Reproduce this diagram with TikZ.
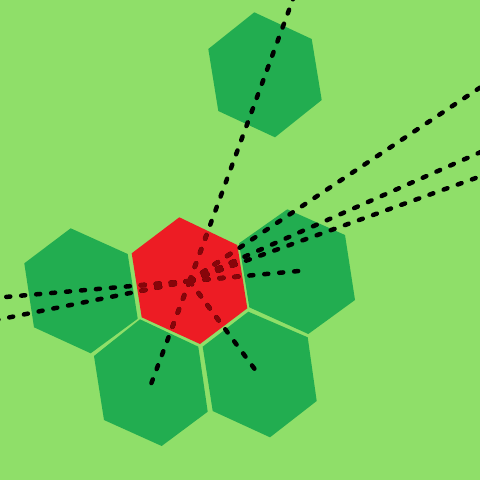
\documentclass[tikz,border=0pt]{standalone}
\definecolor{bg}{RGB}{143,223,105}
\definecolor{hexg}{RGB}{34,173,80}
\definecolor{hexr}{RGB}{237,28,36}
\definecolor{raydark}{RGB}{135,5,10}
\begin{document}
\begin{tikzpicture}[x=1pt,y=-1pt,
  greenhex/.style={fill=hexg},
  redhex/.style={fill=hexr},
  ray/.style={line width=4.5pt, line cap=round, dash pattern=on 4pt off 11pt}]
\fill[bg] (0,0) rectangle (480,480);
\useasboundingbox (0,0) rectangle (480,480);
% hexagons
\path[greenhex] (70.7,228.3)--(127.7,254)--(137.7,318.7)--(90.7,353.3)--(34,327.3)--(24.3,263.3)--cycle;
\path[greenhex] (140,319.3)--(198.3,346.7)--(207.7,411.7)--(161.7,446)--(104,420)--(94,356)--cycle;
\path[greenhex] (248.3,311.7)--(307.7,337.3)--(316.7,401)--(270,437.3)--(212.7,411)--(202.7,346.7)--cycle;
\path[greenhex] (287.3,209.3)--(345,235)--(355,300)--(308.3,334)--(249.3,307.3)--(239,243.3)--cycle;
\path[greenhex] (254.3,12.3)--(311.7,39)--(321.7,100)--(275,137.3)--(218.3,111)--(208.3,49)--cycle;
\path[redhex] (179.3,217.3)--(237.3,245)--(247.3,308.3)--(200,344)--(141.7,317.3)--(131.7,253.3)--cycle;
% ray points
\coordinate (o) at (189.6,281);
\coordinate (up) at (300,-20);
\coordinate (ll) at (150.5,385.5);
\coordinate (lr) at (256.5,371.5);
\coordinate (rc) at (299,271);
\coordinate (l1) at (-20,299.2);
\coordinate (l2) at (-20,323.3);
\coordinate (ra) at (500,74.3);
\coordinate (rb) at (500,143.5);
\coordinate (rcc) at (500,169.3);
\newcommand{\rays}{%
  \draw[ray] (o) -- (up);
  \draw[ray] (o) -- (ll);
  \draw[ray] (o) -- (lr);
  \draw[ray] (o) -- (rc);
  \draw[ray] (o) -- (l1);
  \draw[ray] (o) -- (l2);
  \draw[ray] (o) -- (ra);
  \draw[ray] (o) -- (rb);
  \draw[ray] (o) -- (rcc);}
\begin{scope}[black]
\rays
\end{scope}
\begin{scope}
\clip (179.3,217.3)--(237.3,245)--(247.3,308.3)--(200,344)--(141.7,317.3)--(131.7,253.3)--cycle;
\begin{scope}[every path/.append style={draw=raydark}]
\rays
\end{scope}
\end{scope}
\end{tikzpicture}
\end{document}
